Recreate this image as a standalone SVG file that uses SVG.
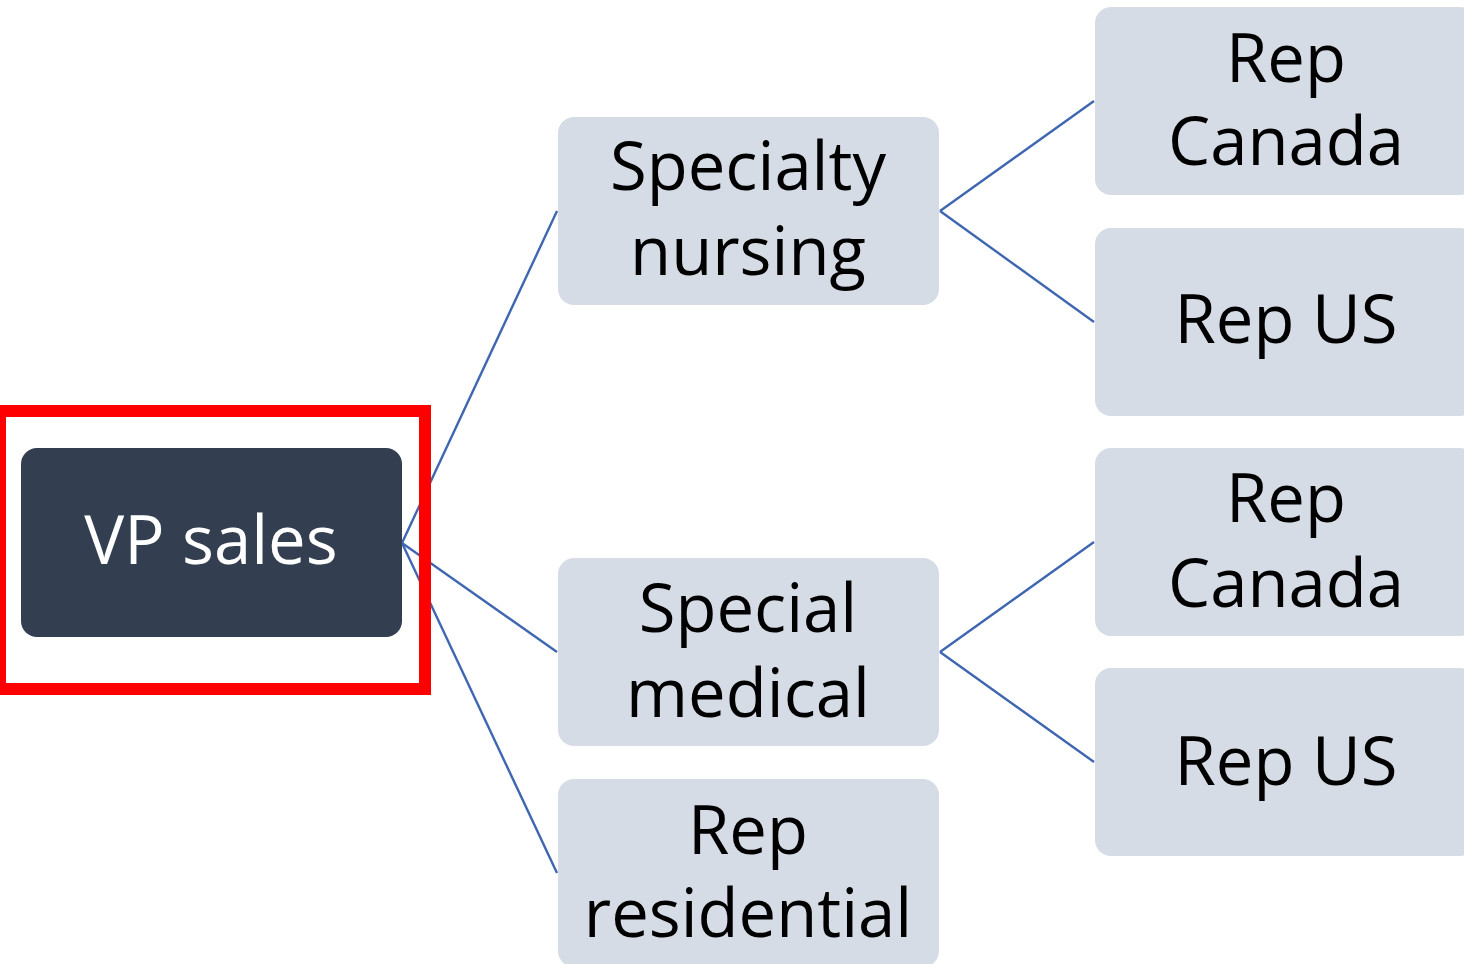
<svg xmlns="http://www.w3.org/2000/svg" width="1464" height="964" viewBox="0 0 1464 964">
  <style>
    .box { fill: #D6DCE5; }
    .root { fill: #333F50; }
    .lbl { font-family: "Open Sans", "Liberation Sans", sans-serif; font-size: 67px; fill: #000; text-anchor: middle; }
    .lbl-root { fill: #FFFFFF; }
    .link { stroke: #3F67B1; stroke-width: 2.4; fill: none; }
    .mark { fill: none; stroke: #FF0000; stroke-width: 12; }
  </style>

  <rect width="1464" height="964" fill="#FFFFFF"/>

  <!-- connectors -->
  <g id="connectors">
    <line class="link" x1="402" y1="543" x2="557" y2="211"/>
    <line class="link" x1="402" y1="543" x2="557" y2="652"/>
    <line class="link" x1="402" y1="543" x2="557" y2="873"/>
    <line class="link" x1="940" y1="211" x2="1094" y2="101"/>
    <line class="link" x1="940" y1="211" x2="1094" y2="322"/>
    <line class="link" x1="940" y1="652" x2="1094" y2="542"/>
    <line class="link" x1="940" y1="652" x2="1094" y2="762"/>
  </g>

  <!-- root -->
  <g id="vp-sales">
    <rect class="root" x="21" y="448" width="381" height="189" rx="16"/>
    <text class="lbl lbl-root" x="211" y="564">VP sales</text>
  </g>

  <!-- second level -->
  <g id="specialty-nursing">
    <rect class="box" x="558" y="117" width="381" height="188" rx="16"/>
    <text class="lbl" x="748" y="190">Specialty</text>
    <text class="lbl" x="748" y="275">nursing</text>
  </g>
  <g id="special-medical">
    <rect class="box" x="558" y="558" width="381" height="188" rx="16"/>
    <text class="lbl" x="748" y="632">Special</text>
    <text class="lbl" x="748" y="717">medical</text>
  </g>
  <g id="rep-residential">
    <rect class="box" x="558" y="779" width="381" height="188" rx="16"/>
    <text class="lbl" x="748" y="854">Rep</text>
    <text class="lbl" x="748" y="937">residential</text>
  </g>

  <!-- third level -->
  <g id="rep-canada-1">
    <rect class="box" x="1095" y="7" width="381" height="188" rx="16"/>
    <text class="lbl" x="1286" y="82">Rep</text>
    <text class="lbl" x="1286" y="165">Canada</text>
  </g>
  <g id="rep-us-1">
    <rect class="box" x="1095" y="228" width="381" height="188" rx="16"/>
    <text class="lbl" x="1286" y="343">Rep US</text>
  </g>
  <g id="rep-canada-2">
    <rect class="box" x="1095" y="448" width="381" height="188" rx="16"/>
    <text class="lbl" x="1286" y="522">Rep</text>
    <text class="lbl" x="1286" y="607">Canada</text>
  </g>
  <g id="rep-us-2">
    <rect class="box" x="1095" y="668" width="381" height="188" rx="16"/>
    <text class="lbl" x="1286" y="785">Rep US</text>
  </g>

  <!-- highlight frame -->
  <rect class="mark" x="0" y="411" width="425" height="278"/>
</svg>
